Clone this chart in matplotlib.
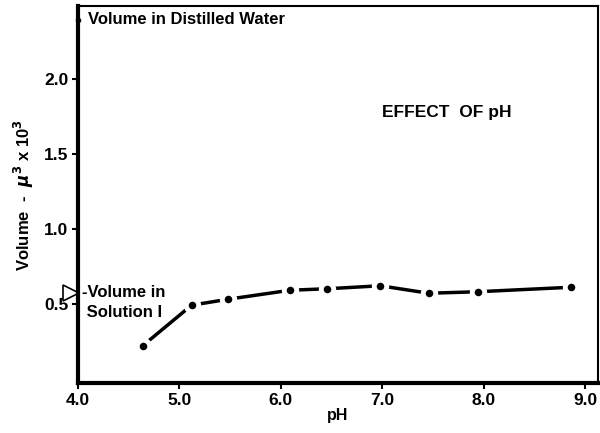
import matplotlib
matplotlib.use("Agg")
import matplotlib.pyplot as plt

# data
ph = [4.64, 5.12, 5.48, 6.09, 6.46, 6.98, 7.46, 7.94, 8.86]
volume = [0.22, 0.49, 0.53, 0.59, 0.60, 0.62, 0.57, 0.58, 0.61]
xticks = [4.0, 5.0, 6.0, 7.0, 8.0, 9.0]
yticks = [0.5, 1.0, 1.5, 2.0]
ytick_labels = ["0.5", "1.0", "1.5", "2.0"]
distilled_level = 2.40
solution_level = 0.57

plt.rcParams["font.family"] = ["Liberation Sans", "DejaVu Sans"]
plt.rcParams["font.weight"] = "bold"

fig = plt.figure(figsize=(6, 4.33), dpi=100)
ax = fig.add_axes([0.13, 0.1155, 0.867, 0.8705])

ax.plot(ph, volume, color="black", lw=2.5, marker="o", ms=9,
        mfc="black", mec="white", mew=3.5, solid_capstyle="butt")

ax.set_xlim(4.0, 9.13)
ax.set_ylim(-0.03, 2.49)
ax.set_xticks(xticks)
ax.set_xticklabels([f"{t:.1f}" for t in xticks])
ax.set_yticks(yticks)
ax.set_yticklabels(ytick_labels)
ax.tick_params(direction="out", length=4, width=1.5, labelsize=12.5, pad=3)

for side in ["left", "bottom"]:
    ax.spines[side].set_linewidth(3)
for side in ["top", "right"]:
    ax.spines[side].set_linewidth(1.5)

ax.set_xlabel("pH", fontsize=11.5, fontweight="bold", labelpad=0)
ax.set_ylabel(r"Volume  -  $\mu^3$ x 10$^3$", fontsize=12, fontweight="bold", labelpad=6)

# reference levels
ax.plot([4.0], [distilled_level], marker="o", ms=3, color="black", clip_on=False)
ax.text(4.1, distilled_level, "Volume in Distilled Water", fontsize=12,
        fontweight="bold", va="center", ha="left")
ax.plot([3.93], [solution_level], marker=">", ms=11, mfc="white", mec="black",
        mew=1.2, clip_on=False)
ax.text(4.04, solution_level + 0.055, "-Volume in\n Solution I", fontsize=12,
        fontweight="bold", va="top", ha="left", linespacing=1.45)

ax.text(7.64, 1.78, "EFFECT  OF pH", fontsize=12.5, fontweight="bold",
        ha="center", va="center")

fig.savefig("out.png", dpi=100)
